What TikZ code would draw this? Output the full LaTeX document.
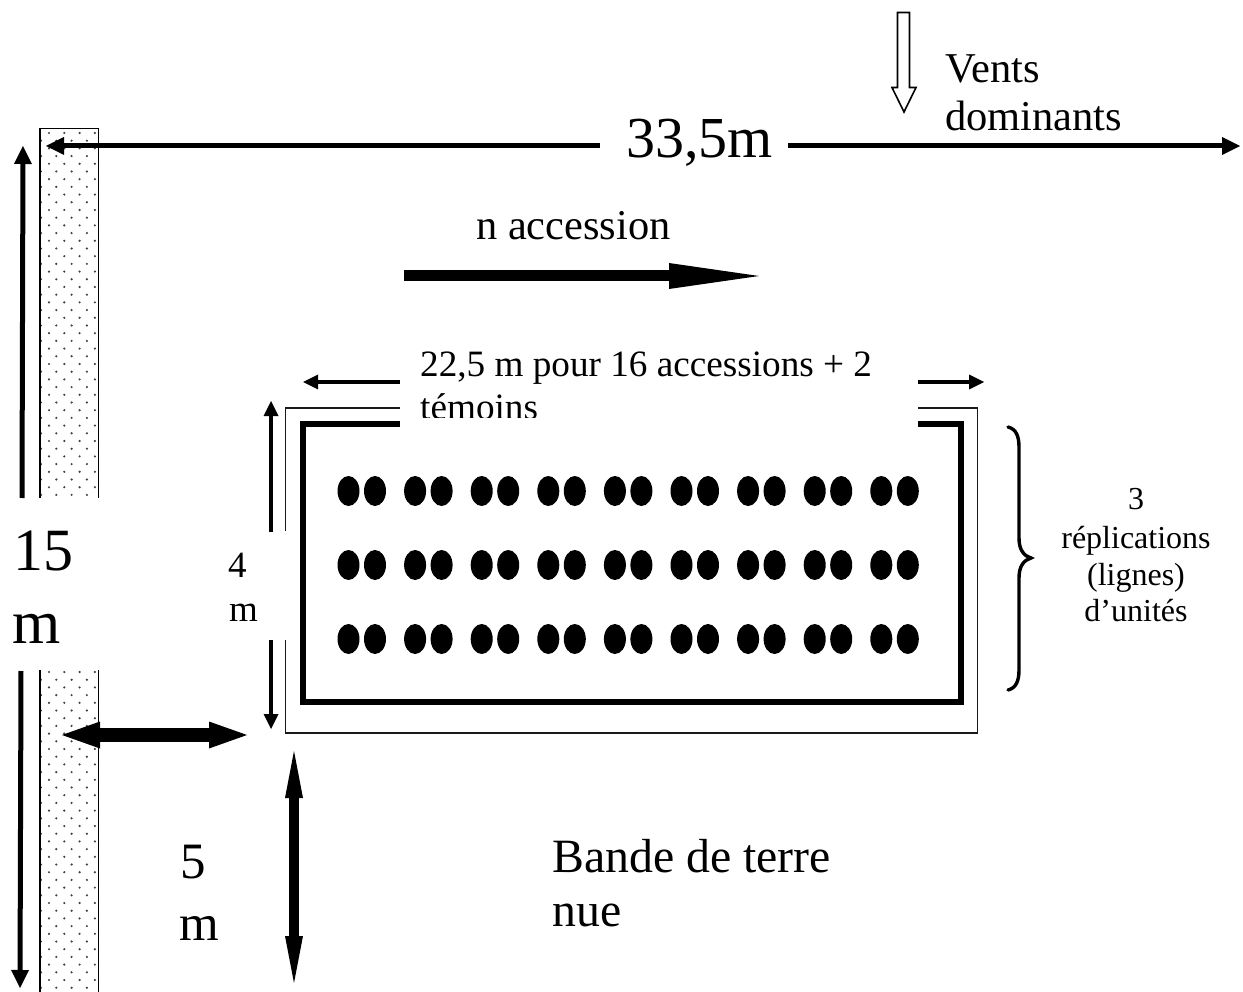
\documentclass[tikz,border=0pt]{standalone}
\usepackage{fontspec}
\setmainfont{Liberation Serif}
\usetikzlibrary{arrows.meta}
\tikzset{
  x=1pt,y=-1pt,
  lbl/.style={inner sep=0pt,anchor=base west,text=black},
  lblc/.style={inner sep=0pt,anchor=base,text=black},
  mask/.style={fill=white,draw=none},
  dimthick/.style={line width=5pt,-{Triangle[length=18pt,width=18pt,line width=0pt]}},
  dimthin/.style={line width=3.6pt,-{Triangle[length=15pt,width=15pt,line width=0pt]}},
  seed/.style={fill=black,draw=none},
}
\begin{document}
\begin{tikzpicture}
\useasboundingbox (0,0) rectangle (1243,992);
% stippled strip
\begin{scope}
  \clip (40,128) rectangle (99,992);
  \foreach \r in {0,...,56}{
    \pgfmathsetmacro{\yy}{133+\r*15.4}
    \foreach \c in {0,...,3}{
      \fill[black!75] ({49+\c*15.3},\yy) circle (1.2pt);
      \fill[black!75] ({41+\c*15.3},{\yy+7.7}) circle (1.2pt);
    }
  }
\end{scope}
\draw[line width=1.8pt] (40,992) -- (40,128.5) -- (98.5,128.5) -- (98.5,992);
% frames
\draw[line width=1.8pt,black!90] (285.5,408) rectangle (977.5,733);
\draw[line width=6pt,miter limit=10] (303,423.5) rectangle (961,702);
% seeds
\foreach \yy in {491,565,639}{
  \foreach \p in {0,...,8}{
    \fill[seed] ({348.5+\p*66.6},\yy) ellipse (11pt and 15pt);
    \fill[seed] ({375+\p*66.6},\yy) ellipse (11pt and 15pt);
  }
}
% masks
\fill[mask] (400,350) rectangle (918,428);
\fill[mask] (0,498) rectangle (101,670);
\fill[mask] (222,531) rectangle (292,640);
% coordinates
\coordinate (topL) at (600,146); \coordinate (topLt) at (46,146);
\coordinate (topR) at (788,146); \coordinate (topRt) at (1240,146);
\coordinate (upS) at (22,498); \coordinate (upT) at (23,146);
\coordinate (dnS) at (21,671); \coordinate (dnT) at (20,988);
\coordinate (accS) at (404,276); \coordinate (accT) at (759,276);
\coordinate (wL) at (400,382); \coordinate (wLt) at (303,382);
\coordinate (wR) at (918,382); \coordinate (wRt) at (984,382);
\coordinate (fU) at (271,532); \coordinate (fUt) at (271,401);
\coordinate (fD) at (271,640); \coordinate (fDt) at (271,729);
\coordinate (hA) at (62,735); \coordinate (hB) at (247,735);
\coordinate (vA) at (294,751); \coordinate (vB) at (294,983);
% arrows
\draw[dimthick] (topL) -- (topLt);
\draw[dimthick] (topR) -- (topRt);
\draw[dimthick] (upS) -- (upT);
\draw[dimthick] (dnS) -- (dnT);
\draw[line width=11pt,-{Triangle[length=90pt,width=26pt,line width=0pt]}] (accS) -- (accT);
\draw[dimthin] (wL) -- (wLt);
\draw[dimthin] (wR) -- (wRt);
\draw[dimthin] (fU) -- (fUt);
\draw[dimthin] (fD) -- (fDt);
\draw[line width=14pt,{Triangle[length=38pt,width=27pt,line width=0pt]}-{Triangle[length=38pt,width=27pt,line width=0pt]}] (hA) -- (hB);
\draw[line width=10pt,{Triangle[length=47pt,width=18pt,line width=0pt]}-{Triangle[length=47pt,width=18pt,line width=0pt]}] (vA) -- (vB);
% wind arrow
\draw[line width=1.6pt,fill=white,miter limit=10] (897.5,12.5) -- (909.5,12.5) -- (909.5,87.5) -- (916,87.5) -- (904,112) -- (892,87.5) -- (897.5,87.5) -- cycle;
% brace
\draw[line width=3.4pt,line cap=round] (1008,427) .. controls (1016,429) and (1019,436) .. (1019,447)
  -- (1019,538) .. controls (1019,550) and (1024,556) .. (1031,558)
  .. controls (1024,560) and (1019,566) .. (1019,578)
  -- (1019,670) .. controls (1019,681) and (1016,688) .. (1008,690);
% labels
\node[lbl,font=\fontsize{58}{58}\selectfont] (dist) at (626,158) {33,5m};
\node[lbl,font=\fontsize{42.5}{42.5}\selectfont] (vents) at (945,83) {Vents};
\node[lbl,font=\fontsize{42.5}{42.5}\selectfont] (domin) at (945,131) {dominants};
\node[lbl,font=\fontsize{42.4}{42.4}\selectfont] (acc) at (476,240) {n accession};
\node[lbl,font=\fontsize{37.2}{37.2}\selectfont] (larg) at (420,377) {22,5 m pour 16 accessions + 2};
\begin{scope}
  \clip (400,390) rectangle (918,417);
  \node[lbl,font=\fontsize{37.2}{37.2}\selectfont] (temo) at (420,419) {témoins};
\end{scope}
\node[lbl,font=\fontsize{60}{60}\selectfont] (q1) at (13,570) {15};
\node[lbl,font=\fontsize{62}{62}\selectfont] (q2) at (12,643) {m};
\node[lbl,font=\fontsize{37}{37}\selectfont] (f1) at (228,577) {4};
\node[lbl,font=\fontsize{37}{37}\selectfont] (f2) at (229,621) {m};
\node[lbl,font=\fontsize{51}{51}\selectfont] (c1) at (180,878) {5};
\node[lbl,font=\fontsize{51}{51}\selectfont] (c2) at (179,940) {m};
\node[lbl,font=\fontsize{47.8}{47.8}\selectfont] (b1) at (552,872) {Bande de terre};
\node[lbl,font=\fontsize{47.8}{47.8}\selectfont] (b2) at (552,926) {nue};
\node[lblc,font=\fontsize{32}{32}\selectfont] (r1) at (1136,509) {3};
\node[lblc,font=\fontsize{32}{32}\selectfont] (r2) at (1136,548) {réplications};
\node[lblc,font=\fontsize{32}{32}\selectfont] (r3) at (1136,585) {(lignes)};
\node[lblc,font=\fontsize{32}{32}\selectfont] (r4) at (1136,621) {d’unités};
\end{tikzpicture}
\end{document}
